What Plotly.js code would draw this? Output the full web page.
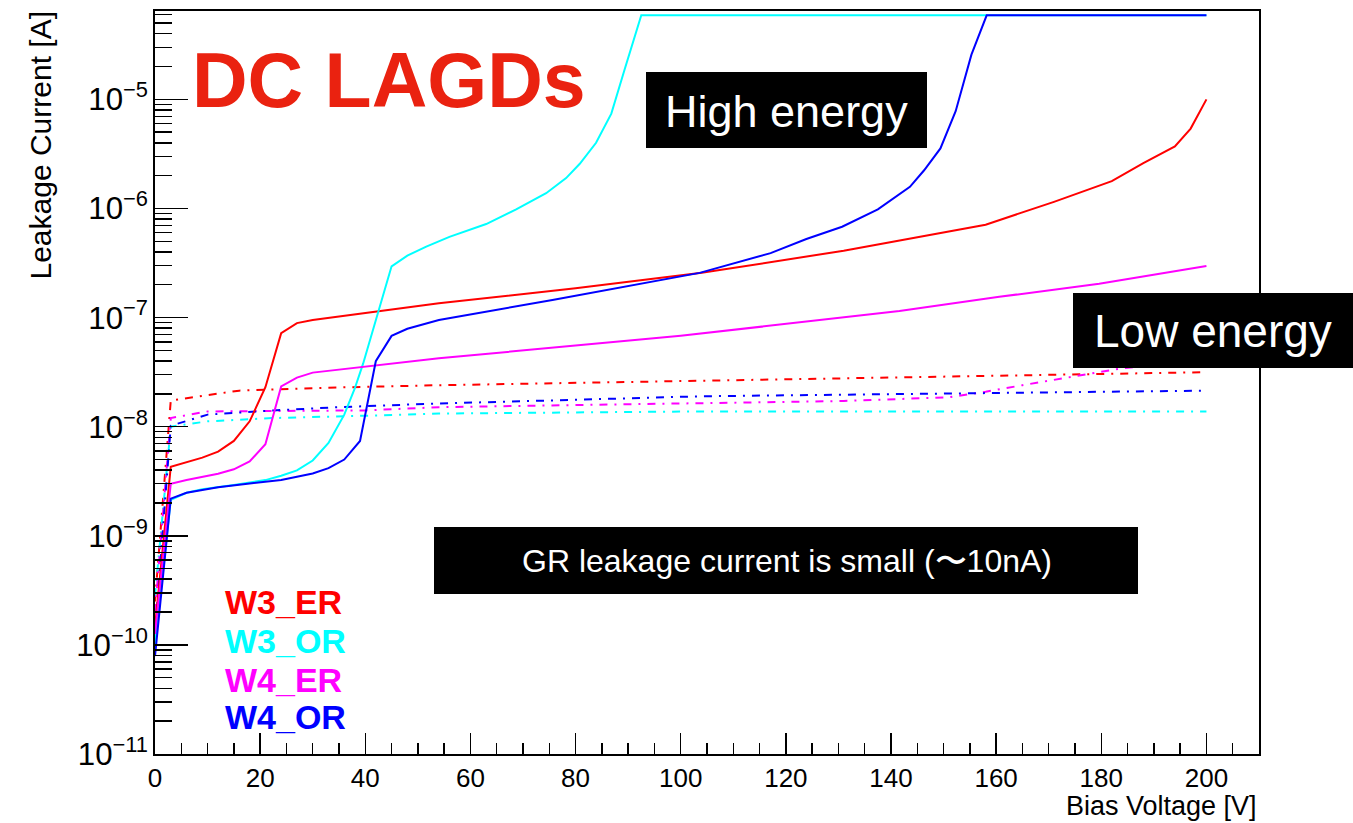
<!DOCTYPE html>
<html>
<head>
<meta charset="utf-8">
<script src="https://cdn.plot.ly/plotly-3.0.1.min.js"></script>
<style>html,body{margin:0;padding:0;background:#fff;}#chart{width:1353px;height:823px;}</style>
</head>
<body>
<div id="chart"></div>
<script>
// ---- Data (Bias Voltage [V], Leakage Current [A]) ----
const V_W3_ER = [0, 3, 9, 12, 15, 18, 21, 24, 27, 30, 54, 80, 104, 131, 158, 171, 182, 188, 194, 197, 200];
const I_W3_ER = [1.45e-10, 4.3e-9, 5.2e-9, 5.9e-9, 7.4e-9, 1.12e-8, 2.3e-8, 7.2e-8, 8.9e-8, 9.5e-8, 1.35e-7, 1.86e-7, 2.57e-7, 4.1e-7, 7.1e-7, 1.15e-6, 1.78e-6, 2.6e-6, 3.7e-6, 5.4e-6, 1.0e-5];

const V_W3_OR = [0, 3, 6, 9, 15, 21, 24, 27, 30, 33, 36, 38, 39.6, 45, 48, 51.6, 56, 63, 68.7, 74.4, 78.2, 80.8, 83.9, 86.8, 89.3, 92.5, 200];
const I_W3_OR = [1.0e-10, 2.14e-9, 2.48e-9, 2.67e-9, 2.92e-9, 3.24e-9, 3.55e-9, 3.98e-9, 4.9e-9, 7.1e-9, 1.29e-8, 2.24e-8, 3.8e-8, 2.95e-7, 3.7e-7, 4.47e-7, 5.5e-7, 7.2e-7, 9.8e-7, 1.38e-6, 1.9e-6, 2.57e-6, 4.0e-6, 7.4e-6, 1.86e-5, 5.9e-5, 5.9e-5];

const V_W4_ER = [0, 3, 6, 9, 12, 15, 18, 21, 24, 27, 30, 54, 100, 141.6, 160.6, 179.6, 200];
const I_W4_ER = [1.26e-10, 3.0e-9, 3.24e-9, 3.47e-9, 3.7e-9, 4.07e-9, 4.8e-9, 6.9e-9, 2.34e-8, 2.82e-8, 3.13e-8, 4.24e-8, 6.8e-8, 1.15e-7, 1.55e-7, 2.04e-7, 2.97e-7];

const V_W4_OR = [0, 3, 6, 12, 18, 24, 27, 30, 33, 36, 39, 42, 45, 48, 54, 75.6, 103.6, 110.4, 117.1, 123.9, 130.7, 137.5, 143.6, 146.3, 149.4, 152.3, 155.3, 158.2, 200];
const I_W4_OR = [7.9e-11, 2.19e-9, 2.48e-9, 2.79e-9, 3.02e-9, 3.24e-9, 3.47e-9, 3.72e-9, 4.17e-9, 5.0e-9, 7.4e-9, 3.98e-8, 6.8e-8, 7.9e-8, 9.5e-8, 1.45e-7, 2.57e-7, 3.16e-7, 3.9e-7, 5.25e-7, 6.8e-7, 9.8e-7, 1.58e-6, 2.24e-6, 3.55e-6, 7.8e-6, 2.57e-5, 5.9e-5, 5.9e-5];

// Guard-ring (GR) leakage currents (dash-dot)
const V_W3_ER_GR = [0, 3, 16, 35, 54, 104, 200];
const I_W3_ER_GR = [2.5e-10, 1.74e-8, 2.14e-8, 2.29e-8, 2.4e-8, 2.63e-8, 3.16e-8];

const V_W3_OR_GR = [0, 3, 10, 22.5, 40, 54, 104, 200];
const I_W3_OR_GR = [2.8e-10, 1.0e-8, 1.12e-8, 1.2e-8, 1.26e-8, 1.32e-8, 1.38e-8, 1.38e-8];

const V_W4_ER_GR = [0, 3, 10, 22.5, 40, 54, 104, 131, 151, 158, 165, 171, 178, 184, 192, 200];
const I_W4_ER_GR = [2.0e-10, 1.2e-8, 1.38e-8, 1.39e-8, 1.41e-8, 1.51e-8, 1.64e-8, 1.72e-8, 1.86e-8, 2.09e-8, 2.4e-8, 2.69e-8, 3.09e-8, 3.43e-8, 3.72e-8, 3.98e-8];

const V_W4_OR_GR = [0, 3, 10, 22.5, 35, 52, 104, 200];
const I_W4_OR_GR = [1.26e-10, 1.02e-8, 1.29e-8, 1.41e-8, 1.51e-8, 1.62e-8, 1.9e-8, 2.14e-8];

const seriesNames = ["W3_ER", "W3_OR", "W4_ER", "W4_OR"];
const seriesColors = ["#ff0000", "#00ffff", "#ff00ff", "#0000ff"];

const xTickVals = [0, 20, 40, 60, 80, 100, 120, 140, 160, 180, 200];

// ---- Traces ----
const solidData = [[V_W3_ER, I_W3_ER], [V_W3_OR, I_W3_OR], [V_W4_ER, I_W4_ER], [V_W4_OR, I_W4_OR]];
const grData = [[V_W3_ER_GR, I_W3_ER_GR], [V_W3_OR_GR, I_W3_OR_GR], [V_W4_ER_GR, I_W4_ER_GR], [V_W4_OR_GR, I_W4_OR_GR]];

const traces = [];
grData.forEach((d, i) => traces.push({
  x: d[0], y: d[1], type: 'scatter', mode: 'lines', name: seriesNames[i] + ' GR',
  line: {color: seriesColors[i], width: 2, dash: '8px,7px,2px,7px'}, showlegend: false
}));
solidData.forEach((d, i) => traces.push({
  x: d[0], y: d[1], type: 'scatter', mode: 'lines', name: seriesNames[i],
  line: {color: seriesColors[i], width: 2}, showlegend: false
}));

// ---- Layout helpers (pixel -> paper) ----
const L = 155, R = 1259, T = 11, B = 754;
const px = x => (x - L) / (R - L);
const py = y => (B - y) / (B - T);
const FONT = 'Liberation Sans, Arial, Helvetica, sans-serif';

const annotations = [
  {text: 'Leakage Current [A]', xref: 'paper', yref: 'paper', x: px(40), y: py(9), xanchor: 'center', yanchor: 'top',
   textangle: -90, showarrow: false, font: {family: FONT, size: 30, color: '#000'}},
  {text: 'Bias Voltage [V]', xref: 'paper', yref: 'paper', x: 1, y: py(806), xanchor: 'right', yanchor: 'middle',
   showarrow: false, font: {family: FONT, size: 27, color: '#000'}},
  {text: '<b>DC LAGDs</b>', xref: 'paper', yref: 'paper', x: px(190), y: py(80), xanchor: 'left', yanchor: 'middle',
   showarrow: false, font: {family: FONT, size: 77, color: '#ea2210'}},
  {text: 'High energy', xref: 'paper', yref: 'paper', x: px(786), y: py(111), xanchor: 'center', yanchor: 'middle',
   showarrow: false, font: {family: FONT, size: 45, color: '#fff'}},
  {text: 'Low energy', xref: 'paper', yref: 'paper', x: px(1213), y: py(331), xanchor: 'center', yanchor: 'middle',
   showarrow: false, font: {family: FONT, size: 46, color: '#fff'}},
  {text: 'GR leakage current is small (〜10nA)', xref: 'paper', yref: 'paper', x: px(787), y: py(561), xanchor: 'center', yanchor: 'middle',
   showarrow: false, font: {family: FONT, size: 32, color: '#fff'}}
];
const legendY = [602, 641, 680, 717];
seriesNames.forEach((n, i) => annotations.push({
  text: '<b>' + n + '</b>', xref: 'paper', yref: 'paper', x: px(223), y: py(legendY[i]), xanchor: 'left', yanchor: 'middle',
  showarrow: false, font: {family: FONT, size: 34, color: seriesColors[i]}
}));

const shapes = [
  {type: 'rect', xref: 'paper', yref: 'paper', x0: px(646), x1: px(927), y0: py(148), y1: py(72), fillcolor: '#000', line: {width: 0}, layer: 'above'},
  {type: 'rect', xref: 'paper', yref: 'paper', x0: px(1073), x1: px(1353), y0: py(368), y1: py(293), fillcolor: '#000', line: {width: 0}, layer: 'above'},
  {type: 'rect', xref: 'paper', yref: 'paper', x0: px(434), x1: px(1138), y0: py(594), y1: py(527), fillcolor: '#000', line: {width: 0}, layer: 'above'}
];

const layout = {
  width: 1353, height: 823,
  margin: {l: L, r: 1353 - R, t: T, b: 823 - B, pad: 0},
  paper_bgcolor: '#fff', plot_bgcolor: '#fff',
  showlegend: false,
  font: {family: FONT, color: '#000'},
  xaxis: {
    range: [0, 210], tickvals: xTickVals, ticks: 'inside', ticklen: 21, tickwidth: 1.5, tickcolor: '#000',
    showline: true, linecolor: '#000', linewidth: 2, mirror: true, showgrid: false, zeroline: false,
    tickfont: {family: FONT, size: 26, color: '#000'}, ticklabelstandoff: 0,
    minor: {dtick: 5, ticks: 'inside', ticklen: 11, tickwidth: 1.5, tickcolor: '#000', showgrid: false}
  },
  yaxis: {
    type: 'log', range: [-11, -4.19], dtick: 1, exponentformat: 'power', ticks: 'inside', ticklen: 33, tickwidth: 1.5, tickcolor: '#000',
    showline: true, linecolor: '#000', linewidth: 2, mirror: true, showgrid: false, zeroline: false,
    tickfont: {family: FONT, size: 25, color: '#000'},
    minor: {dtick: 'D1', ticks: 'inside', ticklen: 17, tickwidth: 1.5, tickcolor: '#000', showgrid: false}
  },
  annotations: annotations,
  shapes: shapes
};

Plotly.newPlot('chart', traces, layout, {staticPlot: true, displayModeBar: false});
</script>
</body>
</html>
